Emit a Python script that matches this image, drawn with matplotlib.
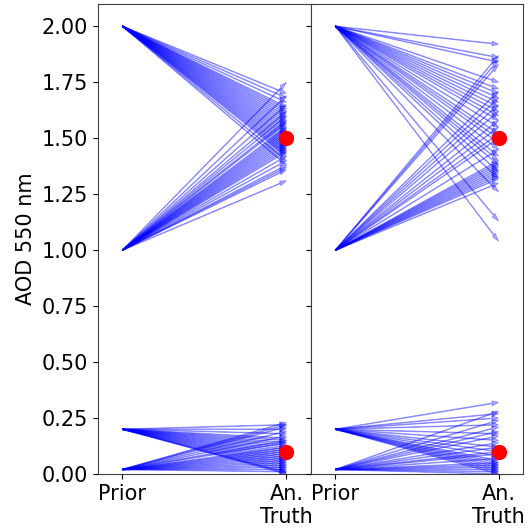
import matplotlib
matplotlib.use("Agg")
import matplotlib.pyplot as plt

# prior values (start of arrows) and analysed values (arrow tips)
priors = [2.0, 1.0, 0.2, 0.02]
truth = [1.5, 0.1]

left_ends = {
    2.0: [1.70, 1.68, 1.66, 1.64, 1.63, 1.62, 1.61, 1.60, 1.59, 1.58, 1.57, 1.56,
          1.55, 1.54, 1.53, 1.52, 1.51, 1.50, 1.49, 1.48, 1.47, 1.46, 1.45, 1.44,
          1.43, 1.42, 1.40, 1.38],
    1.0: [1.75, 1.69, 1.65, 1.62, 1.60, 1.58, 1.57, 1.55, 1.54, 1.53, 1.52, 1.51,
          1.50, 1.49, 1.48, 1.47, 1.46, 1.45, 1.44, 1.42, 1.40, 1.38, 1.37, 1.36, 1.31],
    0.2: [0.22, 0.20, 0.18, 0.16, 0.15, 0.14, 0.13, 0.12, 0.11, 0.10, 0.09, 0.08,
          0.07, 0.06, 0.05, 0.04, 0.03, 0.02, 0.01, 0.005, 0.0],
    0.02: [0.23, 0.22, 0.21, 0.19, 0.17, 0.15, 0.14, 0.12, 0.11, 0.10, 0.09, 0.08,
           0.07, 0.06, 0.05, 0.04, 0.03, 0.02, 0.01],
}

right_ends = {
    2.0: [1.92, 1.86, 1.84, 1.75, 1.72, 1.70, 1.68, 1.66, 1.64, 1.62, 1.60, 1.58,
          1.55, 1.52, 1.50, 1.48, 1.45, 1.42, 1.40, 1.38, 1.35, 1.32, 1.26, 1.13, 1.04],
    1.0: [1.87, 1.85, 1.83, 1.71, 1.68, 1.65, 1.62, 1.58, 1.55, 1.52, 1.50, 1.45,
          1.40, 1.39, 1.38, 1.37, 1.36, 1.35, 1.34, 1.33, 1.32, 1.30],
    0.2: [0.32, 0.27, 0.25, 0.22, 0.18, 0.15, 0.12, 0.10, 0.08, 0.06, 0.05, 0.04,
          0.03, 0.02, 0.01, 0.0],
    0.02: [0.28, 0.24, 0.21, 0.19, 0.17, 0.14, 0.12, 0.10, 0.09, 0.07, 0.05, 0.04,
           0.03, 0.02, 0.01, 0.0],
}

x_labels = ["Prior", "An.\nTruth"]

plt.rcParams["font.size"] = 15

fig = plt.figure(figsize=(5.32, 5.29), dpi=100)
ax1 = fig.add_axes([0.184, 0.104, 0.4006, 0.8886])
ax2 = fig.add_axes([0.5846, 0.104, 0.3984, 0.8886], sharey=ax1)

for ax, ends in [(ax1, left_ends), (ax2, right_ends)]:
    for p in priors:
        for t in ends[p]:
            ax.arrow(0, p, 1, t - p, width=0.003, head_width=0.022, head_length=0.04,
                     length_includes_head=True, color="blue", alpha=0.32, lw=0.7)
    ax.plot([1, 1], truth, "o", color="red", ms=10, zorder=5)
    ax.set_xlim(-0.15, 1.15)
    ax.set_xticks([0, 1])
    ax.set_xticklabels(x_labels)
    for s in ax.spines.values():
        s.set_color("0.25")

ax1.set_ylim(0, 2.1)
ax1.set_yticks([0, 0.25, 0.5, 0.75, 1.0, 1.25, 1.5, 1.75, 2.0])
ax1.set_yticklabels(["%.2f" % v for v in ax1.get_yticks()])
ax1.set_ylabel("AOD 550 nm")
ax2.tick_params(axis="y", labelleft=False)

fig.savefig("out.png", dpi=100)
